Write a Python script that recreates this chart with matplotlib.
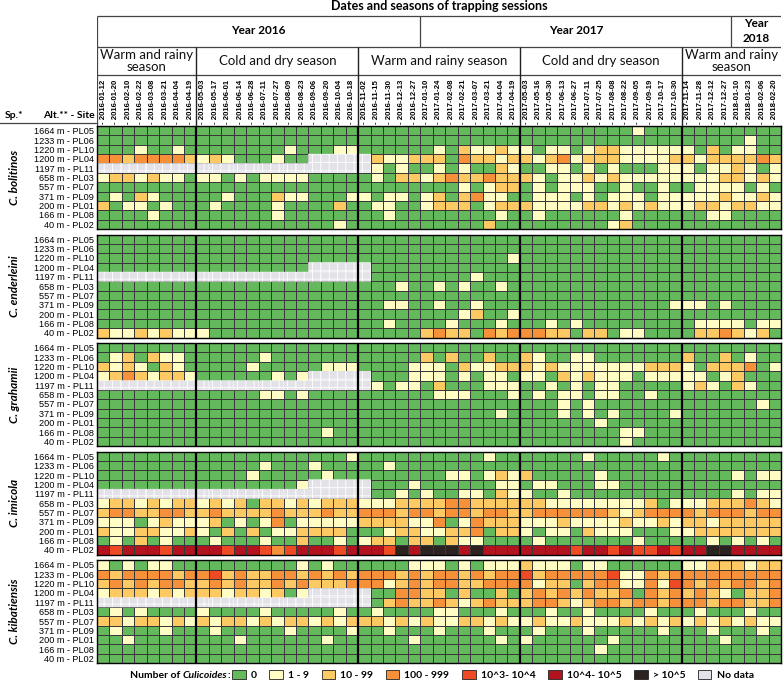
import numpy as np
import matplotlib.pyplot as plt
from matplotlib.colors import ListedColormap, BoundaryNorm
from matplotlib.patches import Patch

plt.rcParams['font.family'] = ['Lato', 'DejaVu Sans']
plt.rcParams['hatch.color'] = 'white'
plt.rcParams['hatch.linewidth'] = 0.6

# ---- data ----
dates = ["2016-01-12", "2016-01-20", "2016-02-10", "2016-02-22", "2016-03-08", "2016-03-21", "2016-04-04", "2016-04-19",
         "2016-05-03", "2016-05-17", "2016-06-01", "2016-06-14", "2016-06-28", "2016-07-11", "2016-07-27", "2016-08-09",
         "2016-08-23", "2016-09-06", "2016-09-20", "2016-10-04", "2016-10-18",
         "2016-11-02", "2016-11-15", "2016-11-30", "2016-12-13", "2016-12-27", "2017-01-10", "2017-01-24", "2017-02-08",
         "2017-02-21", "2017-03-07", "2017-03-21", "2017-04-04", "2017-04-19",
         "2017-05-03", "2017-05-16", "2017-05-30", "2017-06-13", "2017-06-27", "2017-07-11", "2017-07-25", "2017-08-08",
         "2017-08-22", "2017-09-05", "2017-09-19", "2017-10-17", "2017-10-30",
         "2017-11-14", "2017-11-28", "2017-12-12", "2017-12-27", "2018-01-10", "2018-01-23", "2018-02-06", "2018-02-20"]
season_names = ["Warm and rainy\nseason", "Cold and dry season", "Warm and rainy season", "Cold and dry season",
                "Warm and rainy\nseason"]
season_sizes = [8, 13, 13, 13, 8]
year_names = ["Year 2016", "Year 2017", "Year\n2018"]
year_sizes = [26, 25, 4]
sites = ["1664 m - PL05", "1233 m - PL06", "1220 m - PL10", "1200 m - PL04", "1197 m - PL11", "658 m - PL03",
         "557 m - PL07", "371 m - PL09", "200 m - PL01", "166 m - PL08", "40 m - PL02"]
species = ["C. bolitinos", "C. enderleini", "C. grahamii", "C. imicola", "C. kibatiensis"]

# class per cell: 0 = 0, 1 = 1-9, 2 = 10-99, 3 = 100-999, 4 = 10^3-10^4, 5 = 10^4-10^5, 6 = >10^5, n = no data
bolitinos = [
    "00000000 0000000000000 0000000000000 0000000001000 00000000",
    "00000000 0000000000000 0000000000000 0000000000000 00000100",
    "00010010 0000000100011 0000001021121 1011012211111 10201100",
    "33233332 121000100nnnn n211222032212 2123122211112 21222232",
    "nnnnnnnn nnnnnnnnnnnnn n101001010021 0011010100011 10112101",
    "12212110 1101011110000 0102212322322 2101121211111 11122121",
    "00000000 0000000000000 0000000010122 0101110010010 01111010",
    "01021000 0010002110001 1011012023110 0111010111011 11121121",
    "20110100 0100001000020 0110012220122 2111122121211 12212211",
    "00001000 0000001000000 0010000000010 0100000010000 00110000",
    "00000000 0000000000010 0000000000200 0000000120000 00000000",
]
enderleini = [
    "00000000 0000000000000 0000000000000 0000000000000 00000000",
    "00000000 0000000000000 0000000000000 0000000000000 00000000",
    "00000000 0000000000000 0000000000001 0000000000000 00000000",
    "00000000 000000000nnnn n000000000000 0000000000000 00000000",
    "nnnnnnnn nnnnnnnnnnnnn n000000001000 0000000000000 00000000",
    "00000000 0000000000000 0001001010010 0000000000000 00000000",
    "00000000 0000000000000 0000000000000 0000000000000 00000000",
    "00000000 0000000000000 0011001001000 0000000000001 11010000",
    "00000000 0000000000000 0000000012001 0000000000000 00000000",
    "00000000 0000000000000 0010000100010 0010100000000 01111011",
    "21121211 1000000000000 0000023220323 3322022011000 02232120",
]
grahamii = [
    "00000000 0000000000000 0000000000000 0000000000000 00000000",
    "01202110 0000010000000 0000020200200 2100110000000 20020100",
    "21210210 0000100000111 0000111021122 2121111111222 10222301",
    "12321221 000000101nnnn n000111010110 1102121110111 11012000",
    "nnnnnnnn nnnnnnnnnnnnn n101102000111 0010101100000 12102100",
    "00000000 0000011010000 0000001110001 0101101100100 00000000",
    "00000000 0000000000000 0000000000000 0001010000000 00000010",
    "00000000 0000000000000 0000000000010 0001010100001 00000000",
    "00000000 0000000000000 0000000000000 0000001000000 00000000",
    "00000000 0000000000100 0000000000000 0000000011000 00000000",
    "00000000 0000000000000 0000000000000 0000000010000 00000000",
]
imicola = [
    "00000000 0000000000001 0000000000100 0000010000010 00000000",
    "00000000 0000010001000 0010000000000 0000000000000 00000000",
    "00000000 0000100000100 0000000110121 2000001000000 00001011",
    "00000000 000000001nnnn n000100000011 0110001100000 00000000",
    "nnnnnnnn nnnnnnnnnnnnn n001010011021 1001000000000 00001011",
    "12212122 1212022121222 1112222332222 2211111111201 11222321",
    "23322332 2322223222322 3332332332332 2333333212333 32333233",
    "11101211 1201013011111 2222113013222 1112111121121 22122222",
    "21122112 1020201122220 0012211223022 1011021110001 12222222",
    "01020100 0100010020010 1220220211000 0100000001000 00101010",
    "54555455 5545543455545 5546566656555 5555455454454 55665555",
]
kibatiensis = [
    "10101100 0000000010100 0000111010111 2111011000000 11222122",
    "32333323 3423223323232 3332323323233 4233333411323 33333333",
    "23232332 2323223232223 3312323322333 3122023311314 32323323",
    "12221212 221221201nnnn n003322020020 2323232230323 23210223",
    "nnnnnnnn nnnnnnnnnnnnn n023223212322 2332123323323 33233223",
    "01010000 1000010000010 0100001100010 0010010000100 01000100",
    "22122121 2122121221212 2212121122121 1211211121212 12121211",
    "01000100 0100000100001 0010001000100 0100010000010 00100010",
    "00100000 0001000000100 0000100000010 1000000100000 00010000",
    "00000000 0000000000000 0000000000000 0000001000000 00000000",
    "00000000 0000000000000 0000000000000 0000000000000 00000000",
]
blocks = [bolitinos, enderleini, grahamii, imicola, kibatiensis]

legend_labels = ["0", "1 - 9", "10 - 99", "100 - 999", "10^3- 10^4", "10^4- 10^5", "> 10^5", "No data"]
cat_colors = ['#63b95c', '#fffdc4', '#fdc962', '#f79139', '#ee4b25', '#b3131f', '#2c2320', '#e2e2e8']

codes = {'0': 0, '1': 1, '2': 2, '3': 3, '4': 4, '5': 5, '6': 6, 'n': 7}


def to_matrix(rows):
    return np.array([[codes[c] for c in r.replace(" ", "")] for r in rows])


# ---- layout (pixels) ----
W, H = 783, 684
gx0, gx1 = 97, 781
gy0 = 126
row_h = 9.36
gap = 5.6
ncol = len(dates)
block_h = 11 * row_h

fig = plt.figure(figsize=(W / 100, H / 100), dpi=100)


def px_axes(x0, y0, x1, y1):
    return fig.add_axes([x0 / W, 1 - y1 / H, (x1 - x0) / W, (y1 - y0) / H])


cmap = ListedColormap(cat_colors)
norm = BoundaryNorm(np.arange(-0.5, 8.5, 1), cmap.N)
bounds = np.cumsum(season_sizes)[:-1]
narrow = ['Liberation Sans Narrow', 'Liberation Sans', 'DejaVu Sans']
xe = np.arange(ncol + 1)
ye = np.arange(12)

for b, rows in enumerate(blocks):
    top = gy0 + b * (block_h + gap)
    ax = px_axes(gx0, top, gx1, top + block_h)
    m = to_matrix(rows)
    ax.pcolormesh(xe, ye, m, cmap=cmap, norm=norm, edgecolors='#383838', linewidth=0.6)
    # "no data" cells: light grey with a faint white texture
    nd = np.ma.masked_where(m != 7, m)
    ax.pcolor(xe, ye, nd, cmap=cmap, norm=norm, edgecolors='white', linewidth=0.3, hatch='++')
    ax.set_xlim(0, ncol)
    ax.set_ylim(11, 0)
    ax.set_xticks([])
    ax.set_yticks(np.arange(11) + 0.5)
    ax.set_yticklabels(sites, fontsize=6.6, family=narrow)
    ax.tick_params(axis='y', length=0, pad=2)
    for s in bounds:
        ax.axvline(s, color='black', lw=1.6)
    for sp in ax.spines.values():
        sp.set_linewidth(1.0)
    fig.text(14 / W, 1 - (top + block_h / 2) / H, species[b], rotation=90, ha='center', va='center',
             fontsize=8.5, fontweight='bold', fontstyle='italic')

# ---- header ----
hax = px_axes(gx0, 0, gx1, gy0)
hax.set_xlim(0, ncol)
hax.set_ylim(gy0, 0)
hax.axis('off')
hax.text(ncol / 2, 6, "Dates and seasons of trapping sessions", ha='center', va='center',
         fontsize=9, fontweight='bold')
hax.hlines([15.5, 47, 74.5], 0, ncol, color='#444444', lw=0.9)
hax.vlines(0, 15.5, gy0, color='#444444', lw=0.9)
start = 0
for name, n in zip(year_names, year_sizes):
    hax.text(start + n / 2, 31, name, ha='center', va='center', fontsize=8.5, fontweight='bold',
             linespacing=1.5)
    start += n
    if start < ncol:
        hax.vlines(start, 15.5, 47, color='#444444', lw=0.9)
start = 0
for name, n in zip(season_names, season_sizes):
    hax.text(start + n / 2, 61, name, ha='center', va='center', fontsize=9.5, linespacing=1.0,
             color='#111111')
    start += n
    if start < ncol:
        hax.vlines(start, 47, gy0, color='#222222', lw=1.0)
for i, d in enumerate(dates):
    hax.text(i + 0.5, gy0 - 2, "- " + d, rotation=90, ha='center', va='bottom', fontsize=5.6,
             fontweight='bold', family=narrow)

# left header
fig.text(14 / W, 1 - 115 / H, "Sp.*", ha='center', va='center', fontsize=7.5, fontweight='bold')
fig.text(95 / W, 1 - 115 / H, "Alt.** - Site", ha='right', va='center', fontsize=7.5, fontweight='bold')
fig.add_artist(plt.Line2D([0, gx0 / W], [1 - 123 / H, 1 - 123 / H], color='#444444', lw=0.9))

# ---- legend ----
ly = 1 - 675 / H
r = fig.canvas.get_renderer()
t1 = fig.text(130 / W, ly, "Number of ", ha='left', va='center', fontsize=7.5, fontweight='bold')
x = t1.get_window_extent(r).x1
t2 = fig.text(x / W, ly, "Culicoides", ha='left', va='center', fontsize=7.5, fontweight='bold',
              fontstyle='italic')
x = t2.get_window_extent(r).x1
t3 = fig.text(x / W, ly, ":", ha='left', va='center', fontsize=7.5, fontweight='bold')
x = t3.get_window_extent(r).x1
handles = [Patch(facecolor=c, edgecolor='#222222', lw=0.6) for c in cat_colors]
fig.legend(handles, legend_labels, ncol=8, loc='center left', bbox_to_anchor=((x + 2) / W, ly),
           frameon=False, handlelength=1.3, handleheight=1.0, handletextpad=0.5,
           columnspacing=1.2, borderpad=0, borderaxespad=0, prop={'weight': 'bold', 'size': 7.5})

fig.savefig("out.png", dpi=100)
